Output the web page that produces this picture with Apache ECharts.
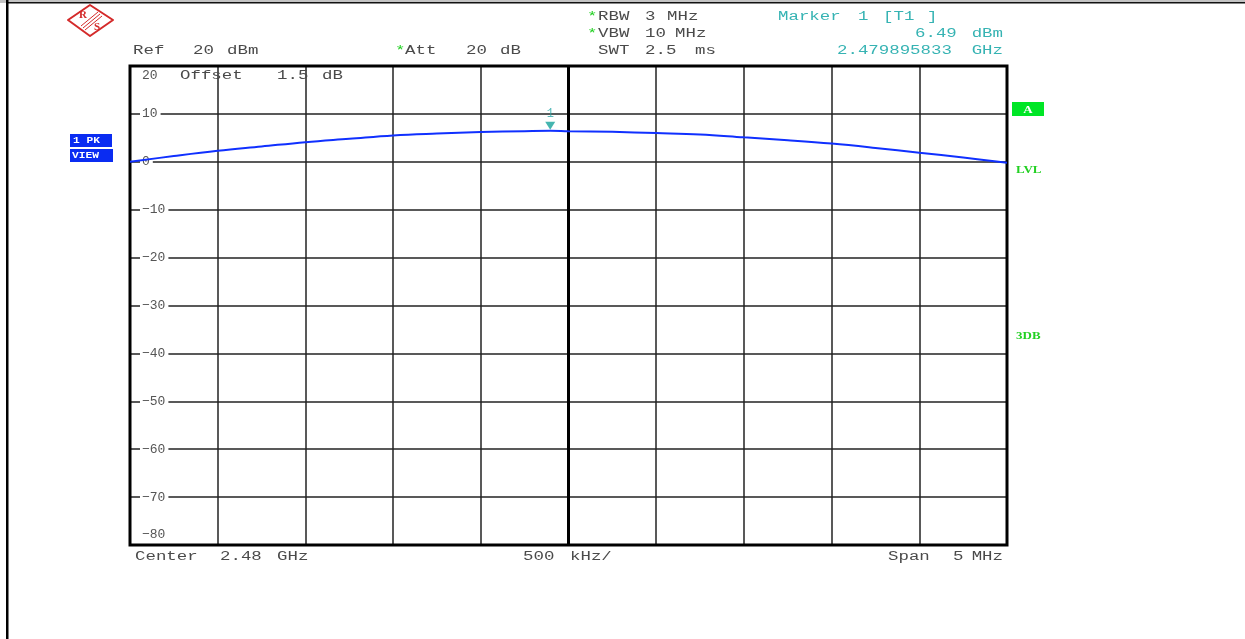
<!DOCTYPE html>
<html>
<head>
<meta charset="utf-8">
<script src="https://cdn.jsdelivr.net/npm/echarts@6/dist/echarts.min.js"></script>
<style>html,body{margin:0;padding:0;background:#fff;}#c{width:1245px;height:639px;}</style>
</head>
<body>
<div id="c"></div>
<script>
// ---- data ----
const freqMHz = [2477.5, 2477.75, 2478.0, 2478.25, 2478.5, 2478.75, 2479.0, 2479.25, 2479.5, 2479.75, 2479.895833, 2480.0, 2480.25, 2480.5, 2480.75, 2481.0, 2481.25, 2481.5, 2481.75, 2482.0, 2482.25, 2482.5];
const levelDbm = [0.0, 1.2, 2.3, 3.2, 4.1, 4.8, 5.5, 5.9, 6.2, 6.4, 6.49, 6.4, 6.25, 6.0, 5.7, 5.1, 4.5, 3.8, 2.9, 1.9, 0.9, -0.2];
const markerFreq = 2479.895833;
const markerLevel = 6.49;
const centerFreq = 2480.0;
const yTickLabels = ['20', '10', '0', '\u221210', '\u221220', '\u221230', '\u221240', '\u221250', '\u221260', '\u221270', '\u221280'];

const FONT = '12px "Liberation Mono", "DejaVu Sans Mono", monospace';
const SX = 1.45;
const DARK = '#4a4a4a', TEAL = '#36b3b3', GREEN = '#22d022';

function txt(x, y, s, color, align, bold) {
  return { type: 'text', x: x, y: y, scaleX: SX, z: 20,
    style: { text: s, fill: color || DARK, font: (bold ? 'bold ' : '') + FONT,
      textAlign: align || 'left', textVerticalAlign: 'middle', verticalAlign: 'middle' } };
}

const chart = echarts.init(document.getElementById('c'), null, { renderer: 'canvas' });

const RED = '#d42a2a';
const graphics = [
  // frame
  { type: 'rect', shape: { x: 0, y: 0, width: 1245, height: 3 }, style: { fill: '#c4c4c4' }, z: 1 },
  { type: 'rect', shape: { x: 8, y: 2, width: 1237, height: 1.5 }, style: { fill: '#111' }, z: 1 },
  { type: 'rect', shape: { x: 6, y: 0, width: 2.5, height: 639 }, style: { fill: '#000' }, z: 1 },
  // R&S logo
  { type: 'polygon', shape: { points: [[68, 20], [90, 5], [113, 20], [90, 36]] },
    style: { fill: 'none', stroke: RED, lineWidth: 2, lineJoin: 'round' }, z: 2 },
  { type: 'line', shape: { x1: 81, y1: 26, x2: 98, y2: 12 }, style: { stroke: RED, lineWidth: 1 }, z: 2 },
  { type: 'line', shape: { x1: 83, y1: 28, x2: 100, y2: 14 }, style: { stroke: RED, lineWidth: 1 }, z: 2 },
  { type: 'line', shape: { x1: 85, y1: 30, x2: 102, y2: 16 }, style: { stroke: RED, lineWidth: 1 }, z: 2 },
  { type: 'text', x: 83, y: 15, style: { text: 'R', fill: RED, font: 'bold 11px "Liberation Serif", serif', textAlign: 'center', textVerticalAlign: 'middle', verticalAlign: 'middle' }, z: 3 },
  { type: 'text', x: 97, y: 27, style: { text: 'S', fill: RED, font: 'bold 11px "Liberation Serif", serif', textAlign: 'center', textVerticalAlign: 'middle', verticalAlign: 'middle' }, z: 3 },
  // header row 1
  txt(587, 17, '*', GREEN), txt(598, 17, 'RBW'), txt(645, 17, '3'), txt(667, 17, 'MHz'),
  txt(778, 17, 'Marker', TEAL), txt(858, 17, '1', TEAL), txt(883, 17, '[T1', TEAL), txt(927, 17, ']', TEAL),
  // header row 2
  txt(587, 34, '*', GREEN), txt(598, 34, 'VBW'), txt(645, 34, '10'), txt(675, 34, 'MHz'),
  txt(915, 34, '6.49', TEAL), txt(1003, 34, 'dBm', TEAL, 'right'),
  // header row 3
  txt(133, 51, 'Ref'), txt(193, 51, '20'), txt(227, 51, 'dBm'),
  txt(395, 51, '*', GREEN), txt(405, 51, 'Att'), txt(466, 51, '20'), txt(500, 51, 'dB'),
  txt(598, 51, 'SWT'), txt(645, 51, '2.5'), txt(695, 51, 'ms'),
  txt(837, 51, '2.479895833', TEAL), txt(1003, 51, 'GHz', TEAL, 'right'),
  // offset inside plot
  txt(180, 76, 'Offset'), txt(277, 76, '1.5'), txt(322, 76, 'dB'),
  // footer
  txt(135, 557, 'Center'), txt(220, 557, '2.48'), txt(277, 557, 'GHz'),
  txt(523, 557, '500'), txt(570, 557, 'kHz/'),
  txt(888, 557, 'Span'), txt(953, 557, '5'), txt(1003, 557, 'MHz', DARK, 'right'),
  // left trace boxes
  { type: 'rect', shape: { x: 70, y: 134, width: 42, height: 13 }, style: { fill: '#0a2cf2' }, z: 5 },
  { type: 'rect', shape: { x: 70, y: 149, width: 43, height: 13 }, style: { fill: '#0a2cf2' }, z: 5 },
  { type: 'text', x: 73, y: 141, scaleX: 1.25, z: 6, style: { text: '1 PK', fill: '#fff', font: 'bold 9px "Liberation Mono", monospace', textAlign: 'left', textVerticalAlign: 'middle', verticalAlign: 'middle' } },
  { type: 'text', x: 72, y: 156, scaleX: 1.25, z: 6, style: { text: 'VIEW', fill: '#fff', font: 'bold 9px "Liberation Mono", monospace', textAlign: 'left', textVerticalAlign: 'middle', verticalAlign: 'middle' } },
  // right side indicators
  { type: 'rect', shape: { x: 1012, y: 102, width: 32, height: 14 }, style: { fill: '#00e626' }, z: 5 },
  { type: 'text', x: 1028, y: 110, scaleX: 1.3, z: 6, style: { text: 'A', fill: '#fff', font: 'bold 10px "Liberation Serif", serif', textAlign: 'center', textVerticalAlign: 'middle', verticalAlign: 'middle' } },
  { type: 'text', x: 1016, y: 170, scaleX: 1.3, z: 6, style: { text: 'LVL', fill: GREEN, font: 'bold 10px "Liberation Serif", serif', textAlign: 'left', textVerticalAlign: 'middle', verticalAlign: 'middle' } },
  { type: 'text', x: 1016, y: 336, scaleX: 1.3, z: 6, style: { text: '3DB', fill: GREEN, font: 'bold 10px "Liberation Serif", serif', textAlign: 'left', textVerticalAlign: 'middle', verticalAlign: 'middle' } }
];

const LBL_FONT = '"Liberation Mono", monospace';
chart.setOption({
  animation: false,
  backgroundColor: '#fff',
  grid: { left: 130, top: 66, width: 877, height: 479, show: true, borderColor: '#000', borderWidth: 3, backgroundColor: 'transparent', z: 3 },
  xAxis: {
    type: 'value', min: 2477.5, max: 2482.5, interval: 0.5,
    axisLine: { show: false }, axisTick: { show: false }, axisLabel: { show: false },
    splitLine: { show: true, lineStyle: { color: '#222', width: 1.5 } }
  },
  yAxis: {
    type: 'value', min: -80, max: 20, interval: 10,
    axisLine: { show: false }, axisTick: { show: false },
    splitLine: { show: true, lineStyle: { color: '#222', width: 1.5 } },
    axisLabel: {
      inside: true, margin: 10, color: '#555', fontFamily: LBL_FONT, fontSize: 13,
      formatter: function (v) {
        const idx = Math.round((20 - v) / 10);
        const s = yTickLabels[idx];
        if (v === 20) return '{t|' + s + '}';
        if (v === -80) return '{b|' + s + '}';
        return '{n|' + s + '}';
      },
      rich: {
        t: { padding: [20, 0, 0, 2], color: '#555', fontFamily: LBL_FONT, fontSize: 13 },
        b: { padding: [0, 0, 20, 2], color: '#555', fontFamily: LBL_FONT, fontSize: 13 },
        n: { padding: [0, 3, 0, 2], backgroundColor: '#fff', color: '#555', fontFamily: LBL_FONT, fontSize: 13 }
      }
    }
  },
  series: [
    {
      type: 'line', name: 'Trace 1', data: freqMHz.map((f, i) => [f, levelDbm[i]]),
      showSymbol: false, smooth: 0.4, z: 6,
      lineStyle: { color: '#1030ff', width: 2 },
      markLine: {
        silent: true, symbol: 'none', label: { show: false },
        lineStyle: { color: '#000', width: 3, type: 'solid' },
        data: [{ xAxis: centerFreq }]
      }
    },
    {
      type: 'scatter', name: 'Marker 1', data: [[markerFreq, markerLevel]],
      symbol: 'triangle', symbolRotate: 180, symbolSize: [10, 8], symbolOffset: [0, -5], z: 8,
      itemStyle: { color: '#17a39c' },
      label: { show: true, position: 'top', distance: 2, formatter: '1', color: '#2aa8a8', fontSize: 12, fontFamily: LBL_FONT }
    }
  ],
  graphic: graphics
});
</script>
</body>
</html>
